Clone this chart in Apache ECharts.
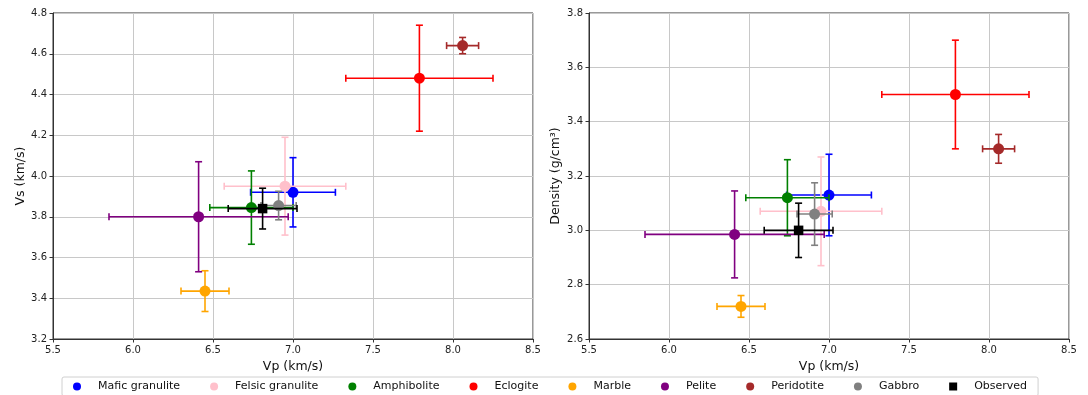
<!DOCTYPE html>
<html>
<head>
<meta charset="utf-8">
<script src="https://cdn.jsdelivr.net/npm/echarts@6/dist/echarts.min.js"></script>
<style>
html, body { margin: 0; padding: 0; background: #fff; }
#main { width: 1088px; height: 395px; }
</style>
</head>
<body>
<div id="main"></div>
<script>
var rockNames = ['Mafic granulite', 'Felsic granulite', 'Amphibolite', 'Eclogite', 'Marble', 'Pelite', 'Peridotite', 'Gabbro', 'Observed'];
var rockColors = ['#0000ff', '#ffc0cb', '#008000', '#ff0000', '#ffa500', '#800080', '#a52a2a', '#808080', '#000000'];
var rockMarkers = ['circle', 'circle', 'circle', 'circle', 'circle', 'circle', 'circle', 'circle', 'rect'];

// Vp (km/s) and its error, shared by both panels
var vp = [7.00, 6.95, 6.74, 7.79, 6.45, 6.41, 8.06, 6.91, 6.81];
var vpErr = [0.265, 0.38, 0.26, 0.46, 0.15, 0.56, 0.10, 0.11, 0.215];
// Vs (km/s)
var vs = [3.92, 3.95, 3.845, 4.48, 3.435, 3.80, 4.64, 3.855, 3.84];
var vsErr = [0.17, 0.24, 0.18, 0.26, 0.10, 0.27, 0.04, 0.07, 0.10];
// Density (g/cm3)
var density = [3.13, 3.07, 3.12, 3.50, 2.72, 2.985, 3.30, 3.06, 3.00];
var densityErr = [0.15, 0.20, 0.14, 0.20, 0.04, 0.16, 0.053, 0.115, 0.10];

var vpTicks = [5.5, 6.0, 6.5, 7.0, 7.5, 8.0, 8.5];
var vsTicks = [3.2, 3.4, 3.6, 3.8, 4.0, 4.2, 4.4, 4.6, 4.8];
var densityTicks = [2.6, 2.8, 3.0, 3.2, 3.4, 3.6, 3.8];

var myChart = echarts.init(document.getElementById('main'));
var font = 'DejaVu Sans';

function makeRender(marker) {
    return function (params, api) {
        var x = api.value(0), y = api.value(1), ex = api.value(2), ey = api.value(3);
        var c = api.coord([x, y]);
        var l = api.coord([x - ex, y]);
        var r = api.coord([x + ex, y]);
        var t = api.coord([x, y + ey]);
        var b = api.coord([x, y - ey]);
        var color = api.visual('color');
        var cap = 3.5;
        var ls = { stroke: color, lineWidth: 1.6 };
        var children = [
            { type: 'line', shape: { x1: l[0], y1: l[1], x2: r[0], y2: r[1] }, style: ls },
            { type: 'line', shape: { x1: t[0], y1: t[1], x2: b[0], y2: b[1] }, style: ls },
            { type: 'line', shape: { x1: l[0], y1: l[1] - cap, x2: l[0], y2: l[1] + cap }, style: ls },
            { type: 'line', shape: { x1: r[0], y1: r[1] - cap, x2: r[0], y2: r[1] + cap }, style: ls },
            { type: 'line', shape: { x1: t[0] - cap, y1: t[1], x2: t[0] + cap, y2: t[1] }, style: ls },
            { type: 'line', shape: { x1: b[0] - cap, y1: b[1], x2: b[0] + cap, y2: b[1] }, style: ls }
        ];
        if (marker == 'rect') {
            children.push({ type: 'rect', shape: { x: c[0] - 4.75, y: c[1] - 4.75, width: 9.5, height: 9.5 }, style: { fill: color } });
        } else {
            children.push({ type: 'circle', shape: { cx: c[0], cy: c[1], r: 5.5 }, style: { fill: color } });
        }
        return { type: 'group', children: children };
    };
}

function xAxisOf(gridIndex) {
    return {
        gridIndex: gridIndex,
        type: 'value',
        min: vpTicks[0],
        max: vpTicks[vpTicks.length - 1],
        interval: 0.5,
        name: 'Vp (km/s)',
        nameLocation: 'middle',
        nameGap: 18,
        nameTextStyle: { fontFamily: font, fontSize: 12.5, color: '#111' },
        axisLine: { show: true, lineStyle: { color: '#333', width: 1 } },
        axisTick: { show: true, inside: false, length: 3.5, lineStyle: { color: '#333' } },
        axisLabel: { fontFamily: font, fontSize: 10, color: '#222', margin: 6, formatter: function (v) { return v.toFixed(1); } },
        splitLine: { show: true, lineStyle: { color: '#c8c8c8', width: 1 } }
    };
}

function yAxisOf(gridIndex, ticks, name, gap) {
    return {
        gridIndex: gridIndex,
        type: 'value',
        min: ticks[0],
        max: ticks[ticks.length - 1],
        interval: 0.2,
        name: name,
        nameLocation: 'middle',
        nameGap: gap,
        nameTextStyle: { fontFamily: font, fontSize: 12.5, color: '#111' },
        axisLine: { show: true, lineStyle: { color: '#333', width: 1 } },
        axisTick: { show: true, inside: false, length: 3.5, lineStyle: { color: '#333' } },
        axisLabel: { fontFamily: font, fontSize: 10, color: '#222', margin: 6, formatter: function (v) { return v.toFixed(1); } },
        splitLine: { show: true, lineStyle: { color: '#c8c8c8', width: 1 } }
    };
}

var series = [];
for (var i = 0; i < rockNames.length; i++) {
    series.push({
        name: rockNames[i],
        type: 'custom',
        xAxisIndex: 0,
        yAxisIndex: 0,
        itemStyle: { color: rockColors[i] },
        renderItem: makeRender(rockMarkers[i]),
        encode: { x: 0, y: 1 },
        data: [[vp[i], vs[i], vpErr[i], vsErr[i]]],
        z: 2 + i
    });
    series.push({
        name: rockNames[i],
        type: 'custom',
        xAxisIndex: 1,
        yAxisIndex: 1,
        itemStyle: { color: rockColors[i] },
        renderItem: makeRender(rockMarkers[i]),
        encode: { x: 0, y: 1 },
        data: [[vp[i], density[i], vpErr[i], densityErr[i]]],
        z: 2 + i
    });
}

var legendData = [];
for (var j = 0; j < rockNames.length; j++) {
    legendData.push({ name: rockNames[j], icon: rockMarkers[j] });
}

option = {
    animation: false,
    backgroundColor: '#fff',
    grid: [
        { left: 53, top: 13, width: 480, height: 326, show: true, borderColor: '#333', borderWidth: 1, backgroundColor: 'transparent' },
        { left: 589, top: 13, width: 480, height: 326, show: true, borderColor: '#333', borderWidth: 1, backgroundColor: 'transparent' }
    ],
    xAxis: [xAxisOf(0), xAxisOf(1)],
    yAxis: [yAxisOf(0, vsTicks, 'Vs (km/s)', 23), yAxisOf(1, densityTicks, 'Density (g/cm³)', 27)],
    legend: {
        data: legendData,
        left: 62,
        top: 377,
        padding: [4, 11, 4, 11],
        itemGap: 30,
        itemWidth: 8,
        itemHeight: 8,
        borderColor: '#d0d0d0',
        borderWidth: 1,
        borderRadius: 2,
        textStyle: { fontFamily: font, fontSize: 11, color: '#111', padding: [0, 0, 0, 12] }
    },
    series: series
};

myChart.setOption(option);
</script>
</body>
</html>
